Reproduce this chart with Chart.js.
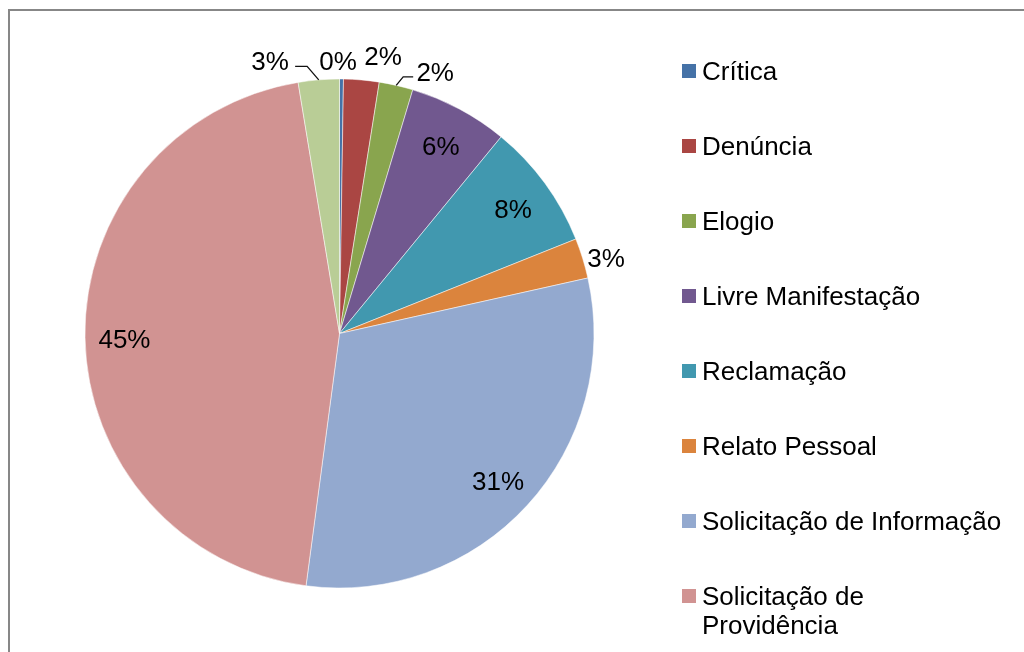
<!DOCTYPE html>
<html>
<head>
<meta charset="utf-8">
<script src="https://cdn.jsdelivr.net/npm/chart.js@4/dist/chart.umd.min.js"></script>
<style>
  html, body { margin: 0; padding: 0; background: #fff; overflow: hidden; }
  #wrap { position: relative; width: 1024px; height: 652px; }
</style>
</head>
<body>
<div id="wrap"><canvas id="c" width="1024" height="652"></canvas></div>
<script>
// ---- data ----
const categories = [
  "Crítica",
  "Denúncia",
  "Elogio",
  "Livre Manifestação",
  "Reclamação",
  "Relato Pessoal",
  "Solicitação de Informação",
  "Solicitação de Providência",
  "Sugestão"
];
const values = [0.25, 2.25, 2.15, 6.3, 8.0, 2.55, 30.6, 45.3, 2.6];
const colors = ["#4572A7", "#AA4643", "#89A54E", "#71588F", "#4198AF", "#DB843D", "#93A9CF", "#D19392", "#B9CD96"];

// ---- styles / placement (not data) ----
const FONT_PX = 26;
const FONT = FONT_PX + 'px "Liberation Sans", Arial, sans-serif';
// outside labels: offset of label centre from the slice's outer-edge midpoint; optional leader line
const outside = {
  0: { dx: -3.5, dy: -18 },
  1: { dx: 21.5, dy: -24 },
  2: { dx: 39, dy: -13.5, leader: [[-32, 5], [-22, 5]] },
  5: { dx: 23.4, dy: -0.5 },
  8: { dx: -48.6, dy: -19, leader: [[37, 5.5], [25, 5.5]] }
};
const INSIDE_FACTOR = 0.845;

const total = values.reduce((a, b) => a + b, 0);

const labelPlugin = {
  id: 'labels',
  beforeDraw(chart) {
    const ctx = chart.ctx;
    ctx.save();
    ctx.fillStyle = '#fff';
    ctx.fillRect(0, 0, chart.width, chart.height);
    ctx.fillStyle = '#878787';
    ctx.fillRect(8, 9, chart.width - 8, 2);
    ctx.fillRect(8, 9, 2, chart.height - 9);
    ctx.restore();
  },
  afterDatasetsDraw(chart) {
    const ctx = chart.ctx;
    const meta = chart.getDatasetMeta(0);
    ctx.save();
    ctx.font = FONT;
    ctx.fillStyle = '#000';
    ctx.textAlign = 'center';
    ctx.textBaseline = 'alphabetic';
    meta.data.forEach((arc, i) => {
      const p = arc.getProps(['x', 'y', 'startAngle', 'endAngle', 'outerRadius']);
      const mid = (p.startAngle + p.endAngle) / 2;
      const txt = Math.round(values[i] / total * 100) + '%';
      let lx, ly;
      if (outside[i]) {
        const ex = p.x + Math.cos(mid) * p.outerRadius;
        const ey = p.y + Math.sin(mid) * p.outerRadius;
        lx = ex + outside[i].dx;
        ly = ey + outside[i].dy;
        if (outside[i].leader) {
          ctx.strokeStyle = '#111';
          ctx.lineWidth = 1.3;
          ctx.beginPath();
          ctx.moveTo(ex, ey);
          outside[i].leader.forEach(pt => ctx.lineTo(lx + pt[0], ly + pt[1]));
          ctx.stroke();
        }
      } else {
        lx = p.x + Math.cos(mid) * p.outerRadius * INSIDE_FACTOR;
        ly = p.y + Math.sin(mid) * p.outerRadius * INSIDE_FACTOR + 2;
      }
      ctx.fillText(txt, lx, ly + FONT_PX * 0.358);
    });

    // legend
    ctx.textAlign = 'left';
    const lx0 = 682, tx0 = 702, y0 = 71, step = 75, lineH = 29;
    const maxW = FONT_PX * 11.6;
    categories.forEach((name, i) => {
      const cy = y0 + i * step;
      ctx.fillStyle = colors[i];
      ctx.fillRect(lx0, cy - 7, 14, 14);
      ctx.fillStyle = '#000';
      const words = name.split(' ');
      const lines = [];
      let cur = '';
      words.forEach(w => {
        const test = cur ? cur + ' ' + w : w;
        if (ctx.measureText(test).width > maxW && cur) { lines.push(cur); cur = w; }
        else cur = test;
      });
      lines.push(cur);
      lines.forEach((ln, k) => ctx.fillText(ln, tx0, cy + FONT_PX * 0.358 + k * lineH));
    });
    ctx.restore();
  }
};

new Chart(document.getElementById('c'), {
  type: 'pie',
  data: {
    labels: categories,
    datasets: [{
      data: values,
      backgroundColor: colors,
      borderColor: 'rgba(255,255,255,0.5)',
      borderWidth: 1
    }]
  },
  options: {
    responsive: false,
    animation: false,
    devicePixelRatio: 1,
    layout: { padding: { left: 84.5, top: 78.5, right: 429.5, bottom: 63.5 } },
    plugins: {
      legend: { display: false },
      tooltip: { enabled: false },
      title: { display: false }
    }
  },
  plugins: [labelPlugin]
});
</script>
</body>
</html>
